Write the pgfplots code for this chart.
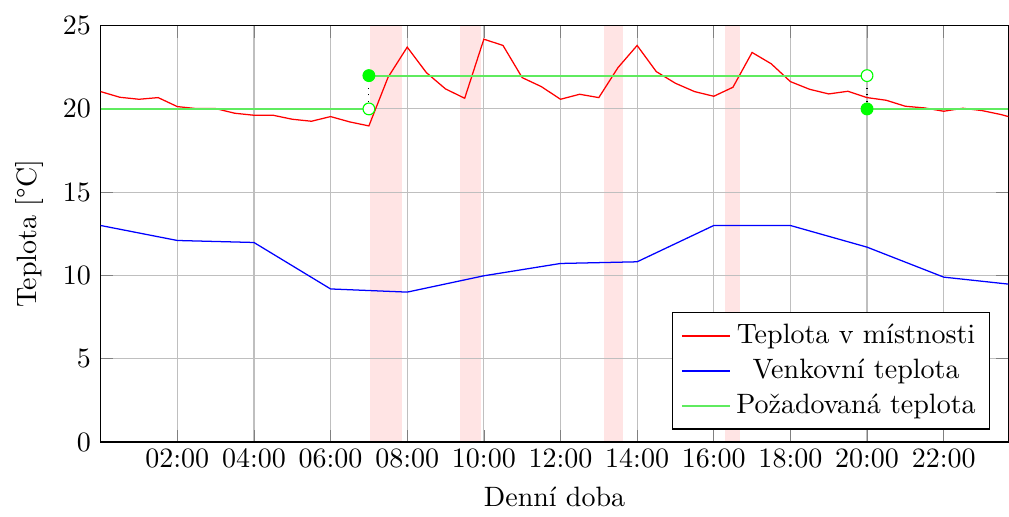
\documentclass[border=0pt]{standalone}
\usepackage{fontspec}
\usepackage{pgfplots}
\pgfplotsset{compat=1.18}
\definecolor{setgreen}{RGB}{0,255,0}
\definecolor{setline}{RGB}{95,235,95}
\definecolor{bandpink}{RGB}{255,228,228}
\begin{document}
\begin{tikzpicture}
\begin{axis}[
  set layers,
  scale only axis,
  width=324pt, height=148.6pt,
  xmin=0, xmax=23.69, ymin=0, ymax=25,
  xtick={2,4,6,8,10,12,14,16,18,20,22},
  xticklabels={02{:}00,04{:}00,06{:}00,08{:}00,10{:}00,12{:}00,14{:}00,16{:}00,18{:}00,20{:}00,22{:}00},
  ytick={0,5,10,15,20,25},
  grid=major,
  grid style={gray!50},
  xticklabel style={yshift=1.2pt},
  xlabel={Denní doba},
  ylabel={Teplota [°C]},
  legend style={at={(0.98,0.03)}, anchor=south east, cells={align=center}},
  legend cell align=center,
]
% heating bands
\addplot[draw=none, fill=bandpink, on layer=axis background, forget plot] coordinates {(7.04,0) (7.04,25) (7.87,25) (7.87,0)} -- cycle;
\addplot[draw=none, fill=bandpink, on layer=axis background, forget plot] coordinates {(9.39,0) (9.39,25) (9.93,25) (9.93,0)} -- cycle;
\addplot[draw=none, fill=bandpink, on layer=axis background, forget plot] coordinates {(13.13,0) (13.13,25) (13.63,25) (13.63,0)} -- cycle;
\addplot[draw=none, fill=bandpink, on layer=axis background, forget plot] coordinates {(16.29,0) (16.29,25) (16.69,25) (16.69,0)} -- cycle;
% room temperature
\addplot[red, line width=0.45pt] coordinates {
(0,21.04) (0.5,20.70) (1,20.58) (1.5,20.68) (2,20.14) (2.5,20.02) (3,20.02) (3.5,19.74)
(4,19.62) (4.5,19.62) (5,19.38) (5.5,19.26) (6,19.54) (6.5,19.22) (7,18.98) (7.5,21.9)
(8,23.71) (8.5,22.18) (9,21.20) (9.5,20.64) (10,24.19) (10.5,23.81) (11,21.88) (11.5,21.34)
(12,20.58) (12.5,20.88) (13,20.68) (13.5,22.48) (14,23.81) (14.5,22.24) (15,21.54) (15.5,21.04)
(16,20.76) (16.5,21.30) (17,23.39) (17.5,22.71) (18,21.64) (18.5,21.18) (19,20.90) (19.5,21.06)
(20,20.68) (20.5,20.52) (21,20.16) (21.5,20.06) (22,19.86) (22.5,20.04) (23,19.90) (23.5,19.66) (23.69,19.54)
};
\addlegendentry{Teplota v místnosti}
% outdoor
\addplot[blue, line width=0.45pt] coordinates {
(0,13.0) (2,12.10) (4,11.98) (6,9.19) (8,9.0) (10,9.98) (12,10.72) (14,10.82)
(16,13.0) (18,13.0) (20,11.70) (22,9.90) (23.69,9.48)
};
\addlegendentry{Venkovní teplota}
% setpoint
\addplot[setline, line width=0.7pt] coordinates {(0,20) (7,20)};
\addlegendentry{Požadovaná teplota}
\addplot[setline, line width=0.7pt, forget plot] coordinates {(7,22) (20,22)};
\addplot[setline, line width=0.7pt, forget plot] coordinates {(20,20) (23.69,20)};
\addplot[black, dotted, forget plot] coordinates {(7,20) (7,22)};
\addplot[black, dotted, forget plot] coordinates {(20,20) (20,22)};
\addplot[only marks, mark=*, mark size=2.1pt, draw=setgreen, fill=white, forget plot] coordinates {(7,20) (20,22)};
\addplot[only marks, mark=*, mark size=2.1pt, draw=setgreen, fill=setgreen, forget plot] coordinates {(7,22) (20,20)};
\end{axis}
\path (current bounding box.north west) ++(-2.2pt,2.6pt);
\end{tikzpicture}
\end{document}
